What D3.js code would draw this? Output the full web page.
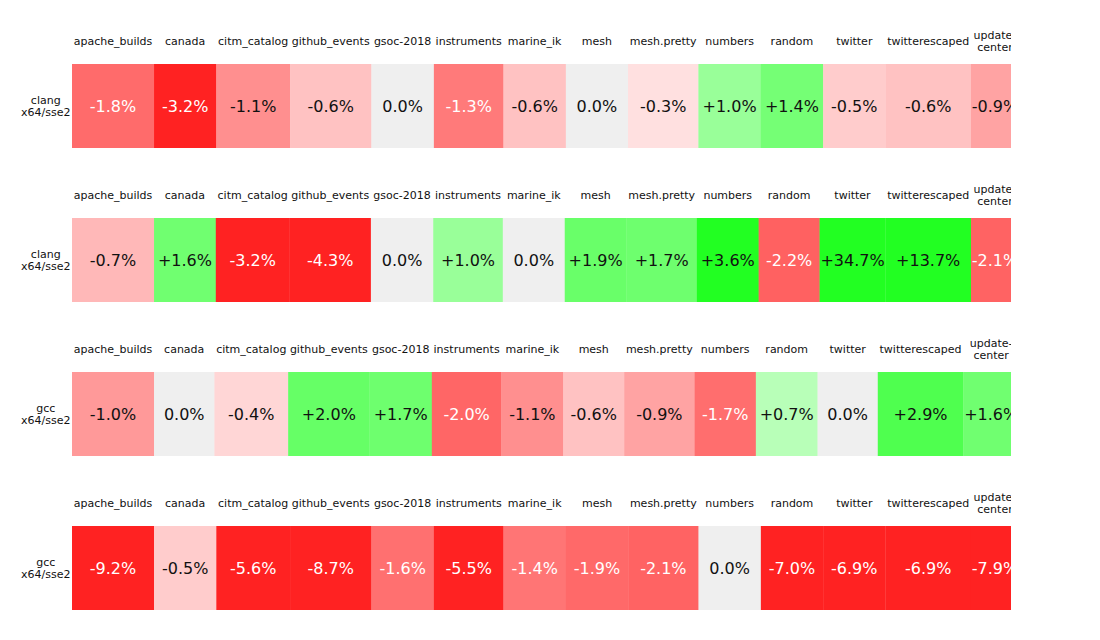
<!DOCTYPE html>
<html>
<head>
<meta charset="utf-8">
<script src="https://cdn.jsdelivr.net/npm/d3@7"></script>
<style>
  html, body { margin: 0; padding: 0; background: #ffffff; }
  svg { display: block; font-family: "DejaVu Sans", sans-serif; }
</style>
</head>
<body>
<script>
// ---------------- data ----------------
const benchmarks = ["apache_builds", "canada", "citm_catalog", "github_events", "gsoc-2018",
  "instruments", "marine_ik", "mesh", "mesh.pretty", "numbers", "random", "twitter",
  "twitterescaped", "update-center"];

const rowNames = ["clang\nx64/sse2", "clang\nx64/sse2", "gcc\nx64/sse2", "gcc\nx64/sse2"];

const row1Values = [-1.8, -3.2, -1.1, -0.6, 0.0, -1.3, -0.6, 0.0, -0.3, 1.0, 1.4, -0.5, -0.6, -0.9];
const row2Values = [-0.7, 1.6, -3.2, -4.3, 0.0, 1.0, 0.0, 1.9, 1.7, 3.6, -2.2, 34.7, 13.7, -2.1];
const row3Values = [-1.0, 0.0, -0.4, 2.0, 1.7, -2.0, -1.1, -0.6, -0.9, -1.7, 0.7, 0.0, 2.9, 1.6];
const row4Values = [-9.2, -0.5, -5.6, -8.7, -1.6, -5.5, -1.4, -1.9, -2.1, 0.0, -7.0, -6.9, -6.9, -7.9];

const rowValues = [row1Values, row2Values, row3Values, row4Values];

// ---------------- layout ----------------
const width = 1100, height = 640;
const left = 72;          // start of heat strips
const tableW = 947;       // total width available to a row's cells
const clipRight = 1011;   // visible right edge
const labelFont = 11, valueFont = 16;

const svg = d3.select("body").append("svg")
  .attr("width", width).attr("height", height);

svg.append("rect").attr("width", width).attr("height", height).attr("fill", "#ffffff");

svg.append("clipPath").attr("id", "clip")
  .append("rect").attr("x", 0).attr("y", 0).attr("width", clipRight).attr("height", height);

// text measurement
const meas = svg.append("text").attr("x", -1000).attr("y", -1000);
function textW(s, size) {
  meas.attr("font-size", size).text(s);
  return meas.node().getComputedTextLength();
}

function fmt(v) {
  if (v === 0) return "0.0%";
  return (v > 0 ? "+" : "-") + Math.abs(v).toFixed(1) + "%";
}
function labelLines(s) {
  return s.replace(/-(?=[a-z])/g, "-\n").split("\n");
}

// intensity of the non-dominant channels
const intensity = d3.scaleLinear().domain([0, 4 / 3, 3]).range([1, 0.4667, 0.3]).clamp(true);
function level(v) {
  const a = Math.abs(v);
  return a >= 3 ? 0.133 : intensity(a);
}
function cellColor(v) {
  if (v === 0) return "#efefef";
  const c = Math.round(255 * level(v));
  return v < 0 ? d3.rgb(255, c, c) : d3.rgb(c, 255, c);
}
function textColor(v) {
  return (v < 0 && level(v) < 0.5) ? "#ffffff" : "#111111";
}

// rows
const yRow = d3.scaleBand().domain(d3.range(rowValues.length))
  .range([64, 610]).paddingInner(70 / 154).paddingOuter(0);

const labelLineW = benchmarks.map(b => d3.max(labelLines(b), l => textW(l, labelFont)));
const wrapped = benchmarks.map(b => labelLines(b).length > 1);

rowValues.forEach((vals, r) => {
  // column widths for this row
  const content = vals.map((v, j) => Math.max(labelLineW[j] + 3.5, textW(fmt(v), valueFont) + 1.6));
  const desired = content.map((c, j) => wrapped[j] ? c : Math.max(62.5, c));
  let total = d3.sum(desired);
  const widths = desired.slice();
  if (total > tableW) {
    const slack = desired.map((d, j) => d - content[j]);
    const sumSlack = d3.sum(slack);
    const excess = total - tableW;
    if (sumSlack > 0) {
      const k = Math.min(1, excess / sumSlack);
      slack.forEach((s, j) => { widths[j] -= s * k; });
    }
  }
  const offsets = [0];
  widths.forEach((w, j) => offsets.push(offsets[j] + w));
  const x = d3.scaleLinear().domain([0, tableW]).range([left, left + tableW]);

  const cells = vals.map((v, j) => ({ v, name: benchmarks[j], x0: x(offsets[j]), x1: x(offsets[j + 1]) }));

  const top = yRow(r), bh = yRow.bandwidth();
  const g = svg.append("g").attr("clip-path", "url(#clip)");

  g.selectAll("rect.cell").data(cells).join("rect")
    .attr("class", "cell")
    .attr("x", d => d.x0).attr("y", top)
    .attr("width", d => d.x1 - d.x0 + 0.3).attr("height", bh)
    .attr("fill", d => cellColor(d.v));

  g.selectAll("text.val").data(cells).join("text")
    .attr("class", "val")
    .attr("x", d => (d.x0 + d.x1) / 2)
    .attr("y", top + bh / 2 + 5.8)
    .attr("text-anchor", "middle")
    .attr("font-size", valueFont)
    .attr("fill", d => textColor(d.v))
    .text(d => fmt(d.v));

  const lab = g.selectAll("text.lab").data(cells).join("text")
    .attr("class", "lab")
    .attr("text-anchor", "middle")
    .attr("font-size", labelFont)
    .attr("fill", "#111111");
  lab.each(function (d) {
    const lines = labelLines(d.name);
    const t = d3.select(this);
    const cx = (d.x0 + d.x1) / 2;
    const base = top - 19 - (lines.length - 1) * 6.35;
    lines.forEach((l, i) => {
      t.append("tspan").attr("x", cx).attr("y", base + i * 12.7).text(l);
    });
  });

  // row label
  const rl = rowNames[r].split("\n");
  const rw = d3.max(rl, l => textW(l, labelFont));
  const rcx = left - 1.5 - rw / 2;
  const rt = svg.append("text").attr("text-anchor", "middle")
    .attr("font-size", labelFont).attr("fill", "#111111");
  rl.forEach((l, i) => {
    rt.append("tspan").attr("x", rcx).attr("y", top + bh / 2 - 2 + i * 12).text(l);
  });
});

meas.remove();
</script>
</body>
</html>
